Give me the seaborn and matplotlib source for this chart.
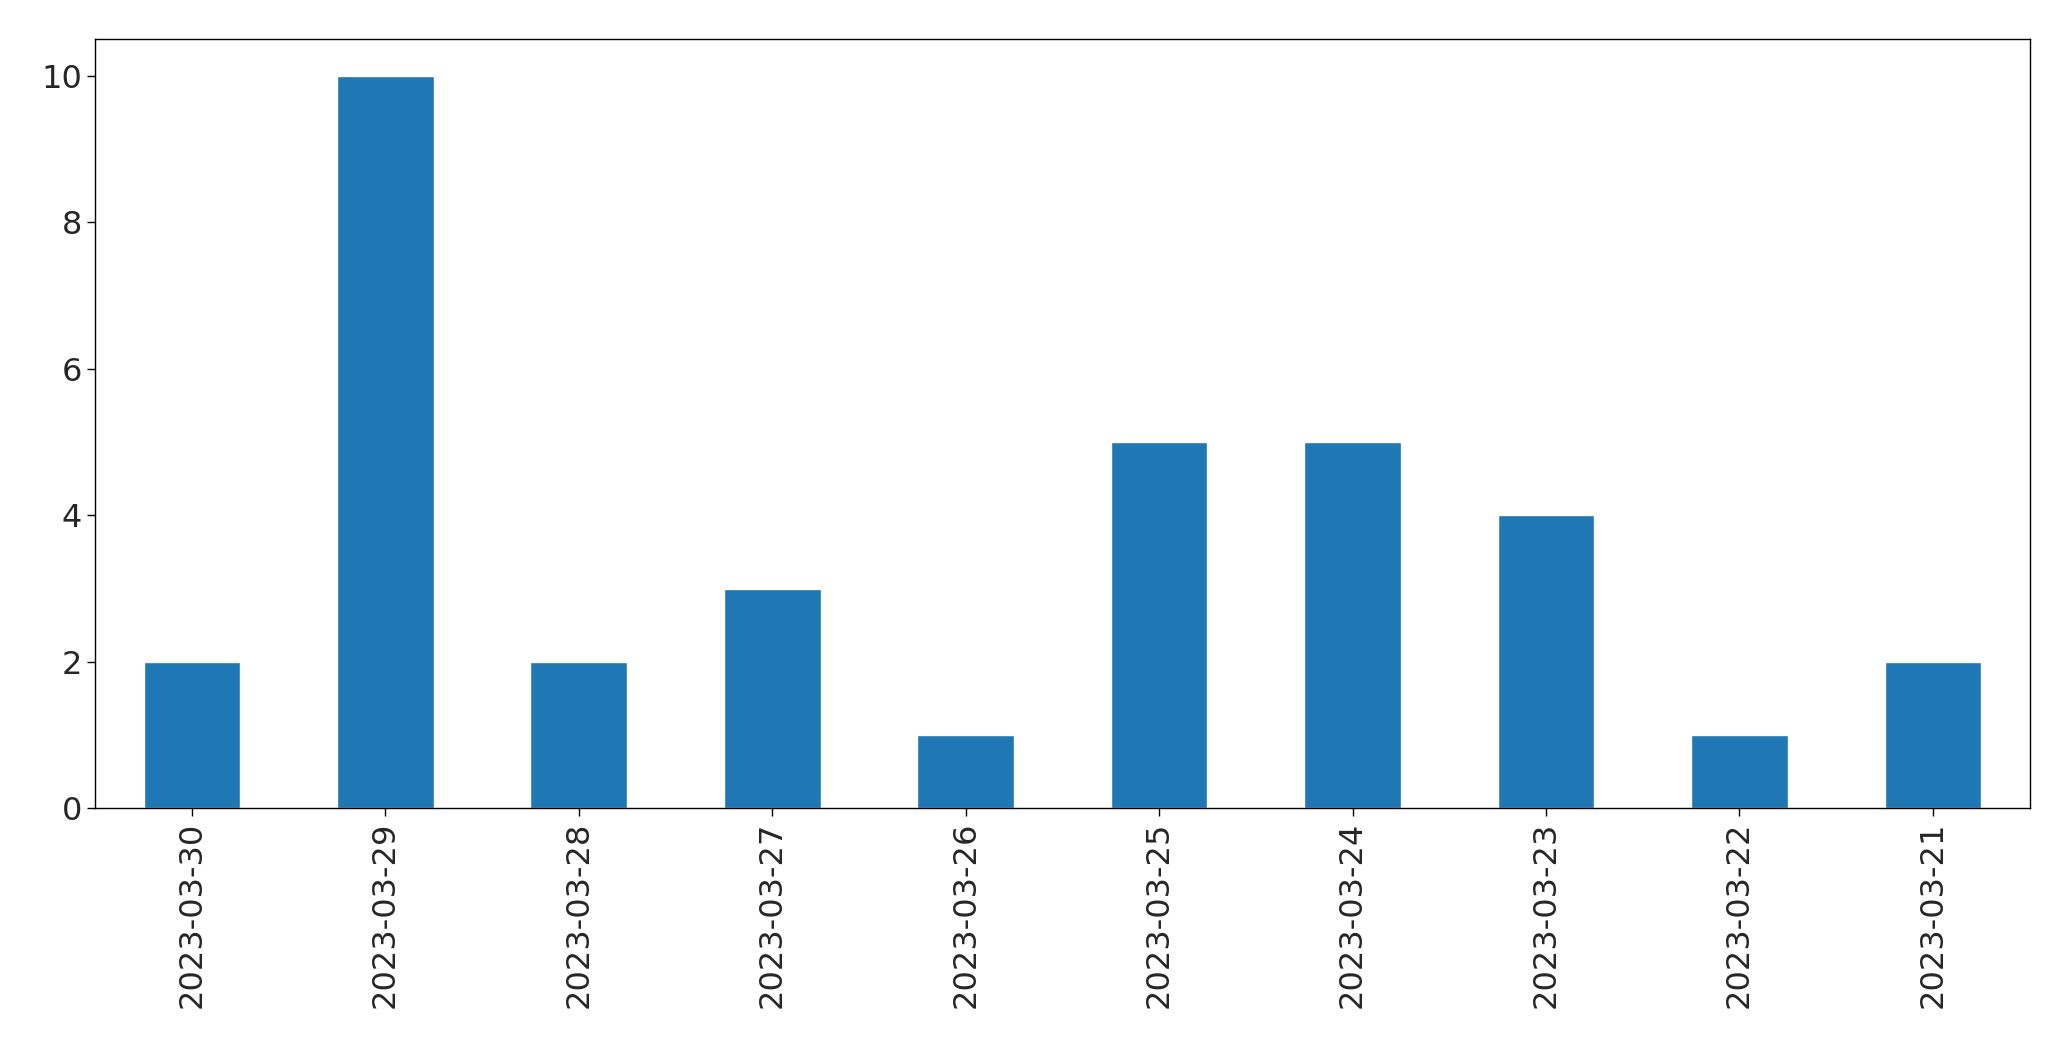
import matplotlib
matplotlib.use("Agg")
import matplotlib.pyplot as plt
import seaborn as sns
import pandas as pd

dates = ["2023-03-30", "2023-03-29", "2023-03-28", "2023-03-27", "2023-03-26",
         "2023-03-25", "2023-03-24", "2023-03-23", "2023-03-22", "2023-03-21"]
counts = [2, 10, 2, 3, 1, 5, 5, 4, 1, 2]

sns.set_style("white")
plt.rcParams['font.family'] = ['DejaVu Sans']
df = pd.DataFrame({"date": dates, "count": counts})

fig = plt.figure(figsize=(20.71, 10.61), dpi=100)
ax = fig.add_axes([0.046, 0.238, 0.934, 0.725])
sns.barplot(data=df, x="date", y="count", color="#1f77b4", saturation=1, width=0.5, ax=ax)
ax.set_xlabel("")
ax.set_ylabel("")
ax.set_xlim(-0.5, len(dates) - 0.5)
ax.set_ylim(0, 10.5)
ax.set_yticks([0, 2, 4, 6, 8, 10])
ax.tick_params(axis='both', labelsize=23, length=6, width=1, color='black', left=True, bottom=True)
plt.setp(ax.get_xticklabels(), rotation=90)
for s in ax.spines.values():
    s.set_color('black')
    s.set_linewidth(1)
fig.savefig("out.png", dpi=100)
